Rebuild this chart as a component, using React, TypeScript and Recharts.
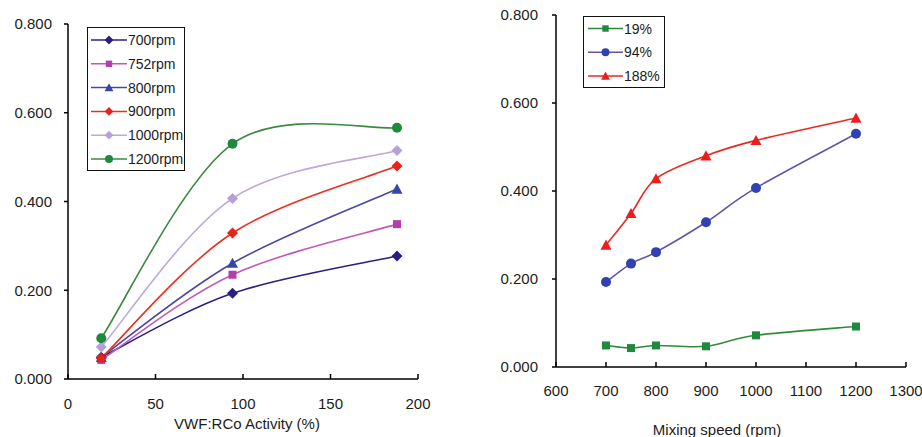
import React from "react";
import { LineChart, Line, XAxis, YAxis } from "recharts";

// ---------- data ----------
const activityX = [19, 94, 188];
const rpm700 = [0.049, 0.193, 0.277];
const rpm752 = [0.043, 0.235, 0.349];
const rpm800 = [0.049, 0.261, 0.428];
const rpm900 = [0.047, 0.329, 0.48];
const rpm1000 = [0.072, 0.407, 0.515];
const rpm1200 = [0.092, 0.53, 0.566];

const speeds = [700, 750, 800, 900, 1000, 1200];
const act19 = [0.049, 0.043, 0.049, 0.047, 0.072, 0.092];
const act94 = [0.193, 0.235, 0.261, 0.329, 0.407, 0.53];
const act188 = [0.277, 0.349, 0.428, 0.48, 0.515, 0.566];

const yTicks = [0, 0.2, 0.4, 0.6, 0.8];
const leftXTicks = [0, 50, 100, 150, 200];
const rightXTicks = [600, 700, 800, 900, 1000, 1100, 1200, 1300];

const leftData = activityX.map((x, i) => ({
  x,
  r700: rpm700[i],
  r752: rpm752[i],
  r800: rpm800[i],
  r900: rpm900[i],
  r1000: rpm1000[i],
  r1200: rpm1200[i],
}));

const rightData = speeds.map((x, i) => ({
  x,
  a19: act19[i],
  a94: act94[i],
  a188: act188[i],
}));

// ---------- styling ----------
const FONT = "'Liberation Sans', Arial, sans-serif";
const TXT = "#1c1c1c";

type Shape = "diamond" | "square" | "triangle" | "circle";

const leftSeries = [
  { key: "r700", name: "700rpm", line: "#2c1f80", fill: "#2a1e7e", shape: "diamond" as Shape },
  { key: "r752", name: "752rpm", line: "#c25ab5", fill: "#b23fae", shape: "square" as Shape },
  { key: "r800", name: "800rpm", line: "#4a47a3", fill: "#3346aa", shape: "triangle" as Shape },
  { key: "r900", name: "900rpm", line: "#e8311f", fill: "#e8221a", shape: "diamond" as Shape },
  { key: "r1000", name: "1000rpm", line: "#bca8da", fill: "#b6a0d8", shape: "diamond" as Shape },
  { key: "r1200", name: "1200rpm", line: "#3b8a3f", fill: "#1f8a3c", shape: "circle" as Shape },
];

const rightSeries = [
  { key: "a19", name: "19%", line: "#2f8a3a", fill: "#1f8a3c", shape: "square" as Shape },
  { key: "a94", name: "94%", line: "#6553aa", fill: "#3141b2", shape: "circle" as Shape },
  { key: "a188", name: "188%", line: "#e82a20", fill: "#e81f1f", shape: "triangle" as Shape },
];

// Catmull-Rom style smoothing (like spreadsheet smoothed lines)
const smoothCurve: any = (context: any) => {
  let pts: number[][] = [];
  return {
    areaStart() {},
    areaEnd() {},
    lineStart() {
      pts = [];
    },
    point(x: number, y: number) {
      pts.push([+x, +y]);
    },
    lineEnd() {
      const n = pts.length;
      if (!n) return;
      context.moveTo(pts[0][0], pts[0][1]);
      for (let i = 0; i < n - 1; i++) {
        const p0 = pts[i - 1] || pts[i];
        const p1 = pts[i];
        const p2 = pts[i + 1];
        const p3 = pts[i + 2] || p2;
        context.bezierCurveTo(
          p1[0] + (p2[0] - p0[0]) / 6,
          p1[1] + (p2[1] - p0[1]) / 6,
          p2[0] - (p3[0] - p1[0]) / 6,
          p2[1] - (p3[1] - p1[1]) / 6,
          p2[0],
          p2[1]
        );
      }
    },
  };
};

function Marker({ cx, cy, shape, fill, s = 1 }: any) {
  if (cx == null || cy == null) return null;
  if (shape === "diamond") {
    const r = 5.5 * s;
    return <polygon points={`${cx},${cy - r} ${cx + r},${cy} ${cx},${cy + r} ${cx - r},${cy}`} fill={fill} />;
  }
  if (shape === "square") {
    const r = 4 * s;
    return <rect x={cx - r} y={cy - r} width={2 * r} height={2 * r} fill={fill} />;
  }
  if (shape === "triangle") {
    const r = 5.5 * s;
    return <polygon points={`${cx},${cy - r} ${cx + r},${cy + r * 0.85} ${cx - r},${cy + r * 0.85}`} fill={fill} />;
  }
  return <circle cx={cx} cy={cy} r={5 * s} fill={fill} />;
}

const makeXTick = (offset: number) => (props: any) => {
  const { x, y, payload } = props;
  return (
    <g>
      <line x1={x} y1={y} x2={x} y2={y - 5} stroke="#000" strokeWidth={1.5} />
      <text x={x} y={y + offset} textAnchor="middle" dominantBaseline="central" fontSize={15} fontFamily={FONT} fill={TXT}>
        {payload.value}
      </text>
    </g>
  );
};

const makeTitle = (text: string, dy: number, dx: number) => (props: any) => {
  const vb = props.viewBox || {};
  return (
    <text
      x={vb.x + vb.width / 2 + dx}
      y={vb.y + dy}
      textAnchor="middle"
      dominantBaseline="central"
      fontSize={15}
      fontFamily={FONT}
      fill={TXT}
    >
      {text}
    </text>
  );
};

function LegendBox({ items, left, top, width, height, rowH, firstY, lineX1, lineX2, textX }: any) {
  return (
    <div
      style={{
        position: "absolute",
        left,
        top,
        width,
        height,
        border: "1.5px solid #111",
        background: "#fff",
        boxSizing: "border-box",
      }}
    >
      <svg width={width} height={height} style={{ position: "absolute", left: -1.5, top: -1.5 }}>
        {items.map((it: any, i: number) => {
          const cy = firstY + i * rowH;
          const mx = (lineX1 + lineX2) / 2;
          return (
            <g key={it.key}>
              <line x1={lineX1} y1={cy} x2={lineX2} y2={cy} stroke={it.line} strokeWidth={1.5} />
              <Marker cx={mx} cy={cy} shape={it.shape} fill={it.fill} s={0.8} />
              <text x={textX} y={cy} dominantBaseline="central" fontSize={14} fontFamily={FONT} fill={TXT}>
                {it.name}
              </text>
            </g>
          );
        })}
      </svg>
    </div>
  );
}

const yFmt = (v: number) => v.toFixed(3);

export default function App() {
  return (
    <div style={{ position: "absolute", left: 0, top: 0, width: 922, height: 437, background: "#fff", fontFamily: FONT }}>
      <div style={{ position: "absolute", left: 0, top: 0 }}>
        <LineChart width={460} height={437} data={leftData} margin={{ top: 24, right: 42, bottom: 8, left: 0 }}>
          <XAxis
            dataKey="x"
            type="number"
            domain={[0, 200]}
            ticks={leftXTicks}
            tickSize={0}
            tickMargin={0}
            height={50}
            axisLine={{ stroke: "#000", strokeWidth: 1.5 }}
            tickLine={false}
            tick={makeXTick(24)}
            interval={0}
            label={makeTitle("VWF:RCo Activity (%)", 44, 4)}
          />
          <YAxis
            type="number"
            domain={[0, 0.8]}
            ticks={yTicks}
            width={68}
            tickSize={4}
            tickMargin={12}
            tickFormatter={yFmt}
            axisLine={{ stroke: "#000", strokeWidth: 1.5 }}
            tickLine={{ stroke: "#000", strokeWidth: 1.5 }}
            tick={{ fontSize: 15, fontFamily: FONT, fill: TXT }}
            interval={0}
          />
          {leftSeries.map((s) => (
            <Line
              key={s.key}
              dataKey={s.key}
              type={smoothCurve}
              stroke={s.line}
              strokeWidth={1.6}
              isAnimationActive={false}
              dot={(p: any) => <Marker key={`${s.key}-${p.index}`} cx={p.cx} cy={p.cy} shape={s.shape} fill={s.fill} />}
              activeDot={false}
            />
          ))}
        </LineChart>
      </div>
      <LegendBox
        items={leftSeries}
        left={87}
        top={27}
        width={98}
        height={144}
        rowH={23.8}
        firstY={13}
        lineX1={4}
        lineX2={40}
        textX={41}
      />

      <div style={{ position: "absolute", left: 460, top: 0 }}>
        <LineChart width={462} height={437} data={rightData} margin={{ top: 15, right: 16, bottom: 20, left: 0 }}>
          <XAxis
            dataKey="x"
            type="number"
            domain={[600, 1300]}
            ticks={rightXTicks}
            tickSize={0}
            tickMargin={0}
            height={50}
            axisLine={{ stroke: "#000", strokeWidth: 1.5 }}
            tickLine={false}
            tick={makeXTick(23)}
            interval={0}
            label={makeTitle("Mixing speed (rpm)", 62, -14)}
          />
          <YAxis
            type="number"
            domain={[0, 0.8]}
            ticks={yTicks}
            width={96}
            tickSize={4}
            tickMargin={14}
            tickFormatter={yFmt}
            axisLine={{ stroke: "#000", strokeWidth: 1.5 }}
            tickLine={{ stroke: "#000", strokeWidth: 1.5 }}
            tick={{ fontSize: 15, fontFamily: FONT, fill: TXT }}
            interval={0}
          />
          {rightSeries.map((s) => (
            <Line
              key={s.key}
              dataKey={s.key}
              type={smoothCurve}
              stroke={s.line}
              strokeWidth={1.6}
              isAnimationActive={false}
              dot={(p: any) => <Marker key={`${s.key}-${p.index}`} cx={p.cx} cy={p.cy} shape={s.shape} fill={s.fill} />}
              activeDot={false}
            />
          ))}
        </LineChart>
      </div>
      <LegendBox
        items={rightSeries}
        left={583}
        top={16}
        width={82}
        height={72}
        rowH={23.7}
        firstY={12.5}
        lineX1={5}
        lineX2={40}
        textX={41}
      />
    </div>
  );
}
